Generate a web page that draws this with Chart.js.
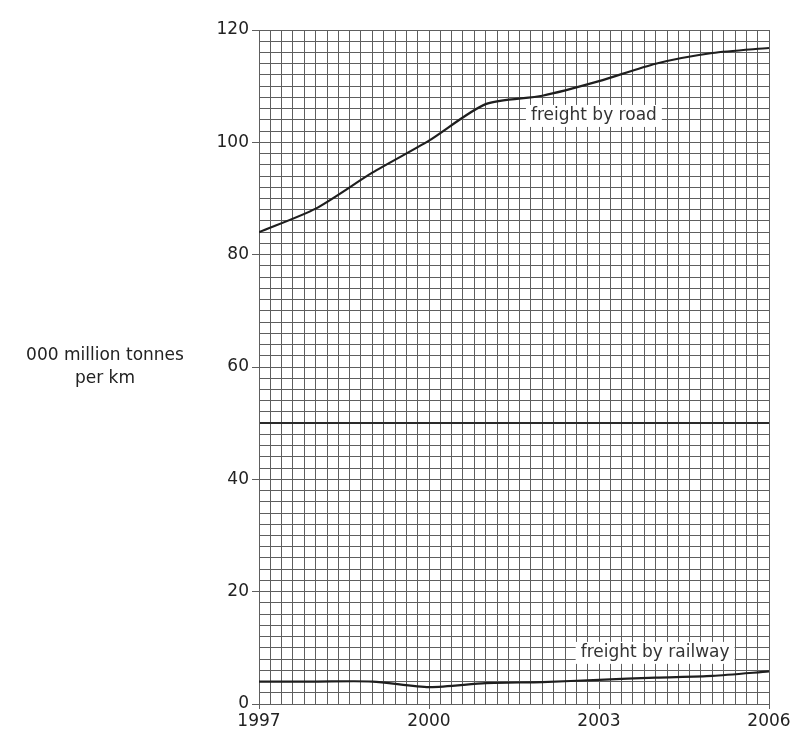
<!DOCTYPE html>
<html>
<head>
<meta charset="utf-8">
<script src="https://cdn.jsdelivr.net/npm/chart.js@4/dist/chart.umd.min.js"></script>
<style>
  body { margin: 0; background: #fff; }
  #wrap { width: 797px; height: 740px; }
</style>
</head>
<body>
<div id="wrap"><canvas id="my-chart" width="797" height="740"></canvas></div>
<script>
// values
const years = [1997, 1998, 1999, 2000, 2001, 2002, 2003, 2004, 2005, 2006];
const road = [84, 88.2, 94.6, 100.3, 106.8, 108.3, 110.9, 114, 115.9, 116.8];
const railway = [4, 4, 4, 3, 3.7, 3.9, 4.3, 4.7, 5, 5.8];
const yearLabels = [1997, 2000, 2003, 2006];
const valueLabels = [0, 20, 40, 60, 80, 100, 120];
const yTitle = ['000 million tonnes', 'per km'];
const notes = [
  { text: 'freight by road', x: 2002.91, y: 104.7 },
  { text: 'freight by railway', x: 2003.99, y: 9.1 }
];

const FONT = '"DejaVu Sans", sans-serif';
const GRID = '#5e5e5e';

const isLabelYear = v => Math.abs(v - Math.round(v)) < 1e-6 && yearLabels.includes(Math.round(v));
const isLabelValue = v => Math.abs(v - Math.round(v)) < 1e-6 && valueLabels.includes(Math.round(v));

const extras = {
  id: 'extras',
  afterDatasetsDraw(chart) {
    const ctx = chart.ctx;
    const xs = chart.scales.x, ys = chart.scales.y;
    ctx.save();
    ctx.font = '17px ' + FONT;
    ctx.textAlign = 'center';
    ctx.textBaseline = 'middle';
    notes.forEach(n => {
      const px = xs.getPixelForValue(n.x);
      const py = ys.getPixelForValue(n.y);
      const w = ctx.measureText(n.text).width;
      ctx.fillStyle = '#fff';
      ctx.fillRect(px - w / 2 - 5, py - 11, w + 10, 22);
      ctx.fillStyle = '#333';
      ctx.fillText(n.text, px, py);
    });
    // y axis title, written flat
    ctx.fillStyle = '#222';
    ctx.fillText(yTitle[0], 105, 356);
    ctx.fillText(yTitle[1], 105, 379);
    ctx.restore();
  }
};

const ctx = document.getElementById('my-chart').getContext('2d');

const chart = new Chart(ctx, {
  type: 'line',
  data: {
    datasets: [
      {
        label: 'freight by road',
        data: years.map((y, i) => ({ x: y, y: road[i] })),
        borderColor: '#1e1e1e',
        borderWidth: 2.2,
        pointRadius: 0,
        tension: 0.25
      },
      {
        label: 'freight by railway',
        data: years.map((y, i) => ({ x: y, y: railway[i] })),
        borderColor: '#1e1e1e',
        borderWidth: 2.2,
        pointRadius: 0,
        tension: 0.25
      }
    ]
  },
  options: {
    responsive: false,
    animation: false,
    layout: { padding: { top: 30, right: 28, left: 0, bottom: 0 } },
    plugins: { legend: { display: false }, tooltip: { enabled: false } },
    scales: {
      x: {
        type: 'linear',
        min: 1997,
        max: 2006,
        afterFit: s => { s.height = 36; },
        ticks: {
          stepSize: 0.2,
          autoSkip: false,
          maxRotation: 0,
          padding: 2,
          color: '#222',
          font: { family: FONT, size: 17 },
          callback: v => isLabelYear(v) ? String(Math.round(v)) : ''
        },
        grid: {
          color: GRID,
          lineWidth: 1,
          tickLength: 5,
          tickColor: c => isLabelYear(c.tick.value) ? GRID : 'rgba(0,0,0,0)'
        },
        border: { color: GRID }
      },
      y: {
        min: 0,
        max: 120,
        afterFit: s => { s.width = 259; },
        ticks: {
          stepSize: 2,
          autoSkip: false,
          padding: 3,
          color: '#222',
          font: { family: FONT, size: 17 },
          callback: v => isLabelValue(v) ? String(Math.round(v)) : ''
        },
        grid: {
          color: c => c.tick.value === 50 ? '#2a2a2a' : GRID,
          lineWidth: c => c.tick.value === 50 ? 2 : 1,
          tickLength: 7,
          tickColor: c => isLabelValue(c.tick.value) ? GRID : 'rgba(0,0,0,0)'
        },
        border: { color: GRID }
      }
    }
  },
  plugins: [extras]
});
</script>
</body>
</html>
